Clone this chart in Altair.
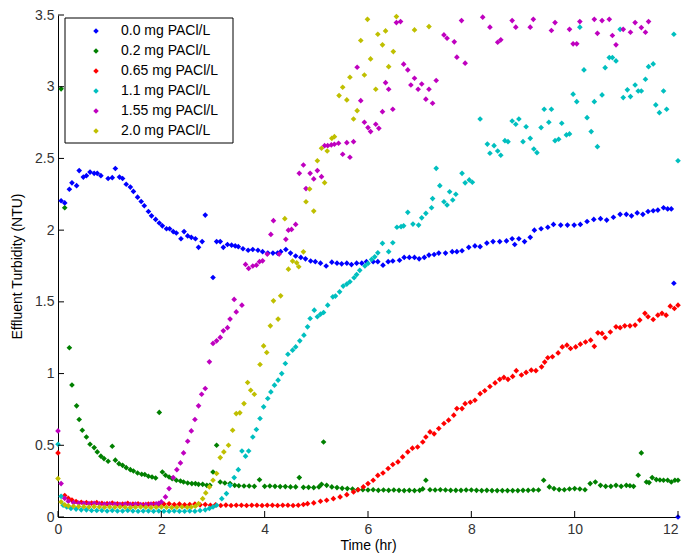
import altair as alt
import pandas as pd

SERIES = ["0.0 mg PACl/L", "0.2 mg PACl/L", "0.65 mg PACl/L",
          "1.1 mg PACl/L", "1.55 mg PACl/L", "2.0 mg PACl/L"]
COLORS = ["#0000FF", "#008000", "#FF0000", "#00BFBF", "#BF00BF", "#BFBF00"]
X_TICKS = [0, 2, 4, 6, 8, 10, 12]
Y_TICKS = [0, 0.5, 1, 1.5, 2, 2.5, 3, 3.5]

# (time hr, turbidity NTU)
BLUE = [(0.06, 2.205), (0.13, 2.19), (0.22, 2.285), (0.27, 2.33), (0.36, 2.31), (0.41, 2.415),
        (0.49, 2.37), (0.55, 2.38), (0.62, 2.405), (0.70, 2.396), (0.76, 2.396), (0.83, 2.38),
        (0.97, 2.36), (1.05, 2.366), (1.11, 2.43), (1.19, 2.37), (1.25, 2.36), (1.32, 2.32),
        (1.40, 2.30), (1.46, 2.27), (1.54, 2.23), (1.61, 2.20), (1.67, 2.17), (1.75, 2.13),
        (1.81, 2.10), (1.89, 2.075), (1.96, 2.05), (2.02, 2.03), (2.10, 2.01), (2.16, 2.01),
        (2.23, 1.99), (2.29, 1.98), (2.38, 1.94), (2.44, 1.99), (2.51, 1.96), (2.58, 1.95),
        (2.66, 1.94), (2.72, 1.88), (2.79, 1.92), (2.85, 2.105), (3.00, 1.67), (3.07, 1.92),
        (3.14, 1.92), (3.20, 1.88), (3.28, 1.90), (3.36, 1.895), (3.43, 1.89), (3.49, 1.885),
        (3.58, 1.87), (3.68, 1.86), (3.77, 1.865), (3.87, 1.86), (3.96, 1.85), (4.06, 1.84),
        (4.16, 1.84), (4.25, 1.84), (4.31, 1.85), (4.41, 1.865), (4.50, 1.84), (4.60, 1.82),
        (4.70, 1.81), (4.79, 1.80), (4.89, 1.785), (4.98, 1.78), (5.08, 1.77), (5.19, 1.75),
        (5.30, 1.777), (5.40, 1.77), (5.49, 1.765), (5.59, 1.77), (5.68, 1.76), (5.78, 1.77),
        (5.88, 1.77), (5.97, 1.78), (6.10, 1.78), (6.19, 1.78), (6.29, 1.756), (6.39, 1.78),
        (6.48, 1.785), (6.61, 1.79), (6.70, 1.81), (6.80, 1.81), (6.90, 1.81), (6.99, 1.80),
        (7.09, 1.81), (7.18, 1.826), (7.28, 1.83), (7.37, 1.84), (7.50, 1.84), (7.63, 1.85),
        (7.72, 1.85), (7.82, 1.856), (7.95, 1.88), (8.07, 1.89), (8.17, 1.885), (8.30, 1.91),
        (8.42, 1.92), (8.55, 1.92), (8.68, 1.925), (8.79, 1.94), (8.84, 1.90), (8.92, 1.94),
        (9.03, 1.92), (9.14, 1.95), (9.22, 2.00), (9.35, 2.01), (9.48, 2.02), (9.59, 2.04),
        (9.73, 2.035), (9.86, 2.035), (9.99, 2.035), (10.11, 2.04), (10.24, 2.06), (10.37, 2.075),
        (10.50, 2.08), (10.62, 2.07), (10.75, 2.09), (10.88, 2.11), (11.00, 2.11), (11.10, 2.10),
        (11.21, 2.12), (11.32, 2.11), (11.42, 2.13), (11.52, 2.135), (11.61, 2.14), (11.72, 2.156),
        (11.80, 2.148), (11.87, 2.148), (11.92, 1.63), (12.0, 0.0)]

GREEN = [(0.06, 2.985), (0.13, 2.156), (0.22, 1.18), (0.27, 0.92), (0.36, 0.775), (0.41, 0.68),
         (0.47, 0.605), (0.55, 0.558), (0.62, 0.507), (0.70, 0.484), (0.76, 0.454), (0.83, 0.424),
         (0.89, 0.407), (0.97, 0.389), (1.05, 0.493), (1.11, 0.396), (1.18, 0.372), (1.25, 0.36),
         (1.32, 0.344), (1.40, 0.33), (1.46, 0.321), (1.54, 0.307), (1.62, 0.298), (1.68, 0.296),
         (1.75, 0.284), (1.82, 0.279), (1.89, 0.272), (1.96, 0.729), (2.02, 0.314), (2.08, 0.291),
         (2.15, 0.279), (2.21, 0.268), (2.29, 0.256), (2.37, 0.251), (2.43, 0.244), (2.51, 0.237),
         (2.59, 0.233), (2.66, 0.233), (2.72, 0.228), (2.80, 0.228), (2.88, 0.221), (2.94, 0.221),
         (3.00, 0.314), (3.07, 0.50), (3.14, 0.244), (3.23, 0.237), (3.33, 0.233), (3.42, 0.221),
         (3.50, 0.218), (3.60, 0.216), (3.70, 0.216), (3.80, 0.214), (3.90, 0.26), (4.00, 0.214),
         (4.10, 0.216), (4.20, 0.214), (4.30, 0.212), (4.40, 0.212), (4.50, 0.21), (4.60, 0.21),
         (4.67, 0.275), (4.75, 0.207), (4.85, 0.207), (4.95, 0.205), (5.05, 0.21), (5.10, 0.228),
         (5.14, 0.523), (5.20, 0.221), (5.30, 0.21), (5.40, 0.205), (5.50, 0.20), (5.60, 0.198),
         (5.70, 0.195), (5.80, 0.19), (5.90, 0.19), (6.00, 0.188), (6.10, 0.19), (6.20, 0.186),
         (6.30, 0.188), (6.40, 0.186), (6.50, 0.188), (6.60, 0.186), (6.70, 0.184), (6.80, 0.186),
         (6.90, 0.184), (7.00, 0.186), (7.06, 0.196), (7.12, 0.256), (7.20, 0.19), (7.30, 0.188),
         (7.40, 0.19), (7.50, 0.188), (7.60, 0.186), (7.70, 0.186), (7.80, 0.186), (7.90, 0.188),
         (8.00, 0.188), (8.10, 0.186), (8.20, 0.184), (8.30, 0.186), (8.40, 0.184), (8.50, 0.184),
         (8.60, 0.184), (8.70, 0.184), (8.80, 0.184), (8.90, 0.184), (9.00, 0.186), (9.10, 0.186),
         (9.20, 0.188), (9.30, 0.188), (9.40, 0.256), (9.51, 0.21), (9.60, 0.198), (9.70, 0.191),
         (9.80, 0.19), (9.90, 0.195), (10.00, 0.198), (10.10, 0.195), (10.20, 0.19), (10.30, 0.233),
         (10.40, 0.244), (10.50, 0.221), (10.60, 0.214), (10.70, 0.214), (10.80, 0.221), (10.90, 0.214),
         (11.00, 0.221), (11.07, 0.218), (11.14, 0.214), (11.23, 0.291), (11.29, 0.447), (11.39, 0.244),
         (11.44, 0.24), (11.50, 0.275), (11.58, 0.261), (11.65, 0.258), (11.72, 0.256), (11.80, 0.256),
         (11.87, 0.244), (11.94, 0.256), (12.0, 0.256)]

RED = [(0.0, 0.447), (0.13, 0.15), (0.2, 0.13), (0.27, 0.118), (0.35, 0.108), (0.45, 0.103),
       (0.55, 0.1), (0.65, 0.097), (0.75, 0.1), (0.85, 0.095), (0.95, 0.093), (1.05, 0.097),
       (1.15, 0.092), (1.25, 0.09), (1.35, 0.095), (1.45, 0.09), (1.55, 0.092), (1.65, 0.087),
       (1.75, 0.09), (1.85, 0.092), (1.95, 0.087), (2.05, 0.09), (2.15, 0.092), (2.25, 0.087),
       (2.35, 0.09), (2.45, 0.085), (2.55, 0.087), (2.65, 0.09), (2.75, 0.085), (2.85, 0.087),
       (2.95, 0.082), (3.05, 0.085), (3.15, 0.08), (3.25, 0.083), (3.35, 0.08), (3.45, 0.082),
       (3.55, 0.082), (3.65, 0.08), (3.75, 0.082), (3.85, 0.082), (3.95, 0.08), (4.05, 0.082),
       (4.15, 0.082), (4.25, 0.08), (4.35, 0.082), (4.45, 0.082), (4.55, 0.08), (4.65, 0.082),
       (4.75, 0.087), (4.83, 0.093), (4.95, 0.098), (5.08, 0.11), (5.2, 0.117), (5.33, 0.128),
       (5.46, 0.14), (5.59, 0.156), (5.72, 0.175), (5.81, 0.19), (5.91, 0.21), (6.0, 0.233),
       (6.1, 0.256), (6.19, 0.29), (6.29, 0.307), (6.39, 0.338), (6.48, 0.366), (6.58, 0.384),
       (6.67, 0.419), (6.77, 0.454), (6.86, 0.48), (6.96, 0.488), (7.06, 0.523), (7.12, 0.558),
       (7.2, 0.593), (7.28, 0.58), (7.37, 0.617), (7.47, 0.652), (7.56, 0.675), (7.66, 0.71),
       (7.72, 0.756), (7.82, 0.756), (7.88, 0.79), (7.98, 0.80), (8.07, 0.814), (8.17, 0.86),
       (8.26, 0.88), (8.36, 0.91), (8.46, 0.935), (8.55, 0.96), (8.63, 0.973), (8.71, 0.96),
       (8.80, 0.98), (8.87, 1.02), (8.97, 0.99), (9.06, 1.008), (9.16, 1.024), (9.25, 1.02),
       (9.36, 1.047), (9.42, 1.08), (9.48, 1.11), (9.57, 1.117), (9.68, 1.144), (9.76, 1.186),
       (9.85, 1.198), (9.92, 1.175), (10.02, 1.186), (10.11, 1.205), (10.21, 1.22), (10.31, 1.233),
       (10.38, 1.19), (10.45, 1.284), (10.53, 1.28), (10.59, 1.25), (10.69, 1.29), (10.8, 1.326),
       (10.88, 1.32), (10.97, 1.333), (11.07, 1.333), (11.17, 1.338), (11.26, 1.373), (11.36, 1.42),
       (11.42, 1.396), (11.52, 1.377), (11.61, 1.407), (11.69, 1.42), (11.77, 1.407), (11.85, 1.47),
       (11.93, 1.454), (12.0, 1.477)]

CYAN = [(0.0, 0.507), (0.06, 0.144), (0.1, 0.082), (0.17, 0.07), (0.25, 0.06), (0.35, 0.055),
        (0.45, 0.05), (0.55, 0.05), (0.65, 0.045), (0.75, 0.045), (0.85, 0.045), (0.95, 0.042),
        (1.05, 0.045), (1.15, 0.042), (1.25, 0.042), (1.35, 0.045), (1.45, 0.042), (1.55, 0.04),
        (1.65, 0.042), (1.75, 0.042), (1.85, 0.04), (1.95, 0.042), (2.05, 0.04), (2.15, 0.04),
        (2.25, 0.042), (2.35, 0.04), (2.45, 0.04), (2.55, 0.042), (2.65, 0.04), (2.75, 0.045),
        (2.85, 0.05), (2.93, 0.06), (3.0, 0.07), (3.07, 0.082), (3.17, 0.128), (3.26, 0.163),
        (3.33, 0.221), (3.41, 0.275), (3.49, 0.33), (3.56, 0.46), (3.63, 0.424), (3.69, 0.46),
        (3.77, 0.558), (3.84, 0.61), (3.91, 0.687), (3.98, 0.768), (4.06, 0.826), (4.12, 0.872),
        (4.19, 0.919), (4.26, 0.954), (4.33, 1.0), (4.40, 1.07), (4.45, 1.135), (4.54, 1.163),
        (4.60, 1.186), (4.68, 1.228), (4.76, 1.268), (4.83, 1.326), (4.88, 1.384), (4.96, 1.442),
        (5.02, 1.396), (5.08, 1.414), (5.14, 1.426), (5.22, 1.477), (5.32, 1.535), (5.37, 1.54),
        (5.45, 1.57), (5.52, 1.61), (5.59, 1.624), (5.65, 1.64), (5.73, 1.668), (5.78, 1.69),
        (5.84, 1.72), (5.94, 1.75), (6.0, 1.768), (6.07, 1.796), (6.13, 1.814), (6.19, 1.842),
        (6.28, 1.908), (6.4, 1.85), (6.48, 1.912), (6.56, 2.02), (6.64, 2.024), (6.69, 2.03),
        (6.77, 2.124), (6.87, 2.042), (6.98, 2.035), (7.04, 2.086), (7.12, 2.117), (7.23, 2.156),
        (7.25, 2.22), (7.32, 2.431), (7.39, 2.31), (7.47, 2.198), (7.53, 2.175), (7.58, 2.268),
        (7.64, 2.21), (7.70, 2.25), (7.82, 2.396), (7.88, 2.33), (7.96, 2.35), (8.02, 2.334),
        (8.17, 2.775), (8.31, 2.6), (8.36, 2.536), (8.44, 2.589), (8.51, 2.552), (8.57, 2.522),
        (8.65, 2.624), (8.71, 2.617), (8.79, 2.761), (8.86, 2.738), (8.92, 2.775), (9.0, 2.617),
        (9.06, 2.721), (9.14, 2.64), (9.21, 2.566), (9.27, 2.54), (9.35, 2.715), (9.41, 2.843),
        (9.5, 2.752), (9.55, 2.843), (9.62, 2.624), (9.69, 2.634), (9.75, 2.745), (9.84, 2.664),
        (9.9, 2.671), (9.97, 2.948), (10.04, 2.896), (10.1, 3.415), (10.18, 3.117), (10.24, 2.784),
        (10.32, 2.687), (10.38, 2.896), (10.44, 2.582), (10.53, 2.943), (10.59, 3.133), (10.67, 3.203),
        (10.73, 3.203), (10.8, 3.18), (10.88, 3.40), (10.94, 2.924), (11.02, 2.978), (11.08, 2.931),
        (11.17, 3.012), (11.23, 2.97), (11.29, 2.97), (11.37, 3.052), (11.43, 3.14), (11.52, 3.159),
        (11.57, 2.873), (11.64, 2.819), (11.72, 2.97), (11.78, 2.843), (11.92, 3.366), (12.0, 2.484)]

MAGENTA = [(0.0, 0.6), (0.06, 0.233), (0.13, 0.13), (0.2, 0.11), (0.3, 0.1), (0.4, 0.097),
           (0.5, 0.095), (0.6, 0.093), (0.7, 0.095), (0.8, 0.092), (0.9, 0.09), (1.0, 0.092),
           (1.1, 0.09), (1.2, 0.088), (1.3, 0.09), (1.4, 0.088), (1.5, 0.09), (1.6, 0.087),
           (1.7, 0.088), (1.8, 0.09), (1.9, 0.092), (1.95, 0.095), (2.0, 0.105), (2.08, 0.14),
           (2.15, 0.198), (2.23, 0.275), (2.30, 0.33), (2.37, 0.377), (2.43, 0.447), (2.51, 0.528),
           (2.58, 0.60), (2.65, 0.68), (2.72, 0.775), (2.78, 0.856), (2.85, 0.896), (2.93, 1.082),
           (3.0, 1.21), (3.07, 1.228), (3.14, 1.252), (3.20, 1.298), (3.28, 1.32), (3.33, 1.38),
           (3.41, 1.517), (3.45, 1.43), (3.56, 1.477), (3.63, 1.761), (3.69, 1.733), (3.77, 1.75),
           (3.84, 1.756), (3.90, 1.78), (3.96, 1.786), (4.05, 1.833), (4.12, 1.97), (4.17, 2.066),
           (4.28, 1.833), (4.41, 1.936), (4.46, 2.0), (4.52, 2.005), (4.60, 2.04), (4.67, 2.396),
           (4.75, 2.454), (4.80, 2.29), (4.88, 2.396), (4.95, 2.357), (5.02, 2.415), (5.10, 2.373),
           (5.16, 2.589), (5.22, 2.589), (5.29, 2.594), (5.35, 2.599), (5.43, 2.606), (5.51, 2.529),
           (5.59, 2.61), (5.65, 2.508), (5.72, 2.617), (5.79, 3.136), (5.86, 2.903), (5.93, 2.752),
           (6.0, 2.715), (6.05, 2.687), (6.15, 2.738), (6.21, 2.71), (6.28, 2.826), (6.34, 3.028),
           (6.40, 2.982), (6.48, 2.843), (6.55, 3.447), (6.63, 3.454), (6.69, 3.157), (6.77, 3.117),
           (6.83, 3.012), (6.90, 3.059), (6.97, 2.982), (7.04, 3.019), (7.12, 2.913), (7.18, 2.982),
           (7.25, 2.885), (7.32, 3.043), (7.47, 3.361), (7.53, 3.338), (7.67, 3.313), (7.72, 3.206),
           (7.81, 3.461), (7.88, 3.164), (8.22, 3.485), (8.36, 3.415), (8.51, 3.31), (8.57, 3.327),
           (8.79, 3.461), (8.86, 3.415), (9.14, 3.415), (9.20, 3.47), (9.55, 3.392), (9.62, 3.447),
           (9.90, 3.40), (9.97, 3.299), (10.04, 3.299), (10.10, 3.454), (10.38, 3.47), (10.44, 3.372),
           (10.53, 3.461), (10.67, 3.47), (10.73, 3.357), (10.80, 3.292), (10.94, 3.40), (11.08, 3.38),
           (11.17, 3.447), (11.29, 3.412), (11.37, 3.38), (11.43, 3.454)]

YELLOW = [(0.0, 0.268), (0.06, 0.105), (0.13, 0.085), (0.2, 0.078), (0.3, 0.075), (0.4, 0.073),
          (0.5, 0.072), (0.6, 0.07), (0.7, 0.072), (0.8, 0.07), (0.9, 0.068), (1.0, 0.07),
          (1.1, 0.068), (1.2, 0.07), (1.3, 0.068), (1.4, 0.066), (1.5, 0.068), (1.6, 0.07),
          (1.7, 0.068), (1.8, 0.066), (1.9, 0.068), (2.0, 0.07), (2.1, 0.068), (2.2, 0.066),
          (2.3, 0.068), (2.4, 0.07), (2.5, 0.068), (2.58, 0.07), (2.66, 0.075), (2.72, 0.093),
          (2.80, 0.128), (2.86, 0.168), (2.93, 0.21), (3.0, 0.256), (3.07, 0.303), (3.14, 0.414),
          (3.21, 0.454), (3.30, 0.50), (3.38, 0.605), (3.45, 0.721), (3.52, 0.726), (3.60, 0.791),
          (3.67, 0.938), (3.73, 0.884), (3.80, 0.856), (3.91, 1.063), (3.98, 1.193), (4.04, 1.147),
          (4.11, 1.333), (4.17, 1.507), (4.26, 1.38), (4.31, 1.542), (4.39, 2.08), (4.46, 1.728),
          (4.54, 1.784), (4.62, 1.772), (4.66, 1.745), (4.75, 1.849), (4.80, 2.198), (4.87, 2.287),
          (4.95, 2.133), (5.02, 2.484), (5.10, 2.571), (5.16, 2.331), (5.21, 2.552), (5.30, 2.64),
          (5.35, 2.652), (5.44, 2.938), (5.51, 2.996), (5.59, 2.908), (5.65, 3.066), (5.72, 2.775),
          (5.79, 2.833), (5.86, 3.322), (5.93, 3.082), (5.99, 3.47), (6.05, 3.194), (6.15, 2.982),
          (6.19, 3.366), (6.28, 3.292), (6.34, 3.389), (6.40, 3.14), (6.49, 3.245), (6.55, 3.489),
          (6.90, 3.396), (7.18, 3.419)]

rows = []
for name, pts in zip(SERIES, [BLUE, GREEN, RED, CYAN, MAGENTA, YELLOW]):
    for t, v in pts:
        rows.append({"series": name, "t": t, "v": v})
df = pd.DataFrame(rows)

W, H = 620, 502
FONT = "Liberation Sans"
xs = alt.Scale(domain=[0, 12], nice=False, zero=False)
ys = alt.Scale(domain=[0, 3.5], nice=False, zero=False)
x_axis = alt.Axis(values=X_TICKS, title="Time (hr)", labelPadding=5, titlePadding=2,
                  labelFlush=False,
                  labelAlign={"condition": {"test": "datum.value >= 12", "value": "right"},
                              "value": "center"})
y_axis = alt.Axis(values=Y_TICKS, title="Effluent Turbidity (NTU)",
                  labelExpr="datum.value + ''", labelPadding=4, titlePadding=10)

# legend frame (decoration only)
frame = alt.Chart(pd.DataFrame({"k": [0]})).mark_rect(
    fill="white", stroke="black", strokeWidth=1).encode(
    x=alt.value(7), x2=alt.value(175), y=alt.value(3), y2=alt.value(128))

points = alt.Chart(df).mark_point(shape="diamond", filled=True, size=32, opacity=1).encode(
    x=alt.X("t:Q", scale=xs, axis=x_axis),
    y=alt.Y("v:Q", scale=ys, axis=y_axis),
    color=alt.Color("series:N", title=None, sort=SERIES,
                    scale=alt.Scale(domain=SERIES, range=COLORS),
                    legend=alt.Legend(orient="none", legendX=7, legendY=3, padding=6,
                                      symbolType="diamond", symbolSize=30, symbolOffset=18,
                                      labelOffset=18, rowPadding=6, labelFontSize=14,
                                      labelFont=FONT, labelColor="black")),
)

xt = alt.Chart(pd.DataFrame({"t": X_TICKS})).mark_rule(color="black", strokeWidth=1).encode(
    x=alt.X("t:Q", scale=xs, axis=x_axis),
    y=alt.value(H), y2=alt.value(H - 6))
yt = alt.Chart(pd.DataFrame({"v": Y_TICKS})).mark_rule(color="black", strokeWidth=1).encode(
    y=alt.Y("v:Q", scale=ys, axis=y_axis),
    x=alt.value(0), x2=alt.value(6))

chart = alt.layer(frame, points, xt, yt).properties(
    width=W, height=H,
    padding={"left": 50, "top": 7, "right": 3, "bottom": 37},
    autosize=alt.AutoSizeParams(type="none"),
).configure_view(stroke=None).configure_axis(
    grid=False, ticks=False, tickSize=0, domainColor="black", domainWidth=1,
    labelFont=FONT, labelFontSize=14, labelColor="#333333",
    titleFont=FONT, titleFontSize=14, titleFontWeight="normal", titleColor="black",
)

chart.save("out.html", embed_options={"renderer": "svg", "actions": False})
